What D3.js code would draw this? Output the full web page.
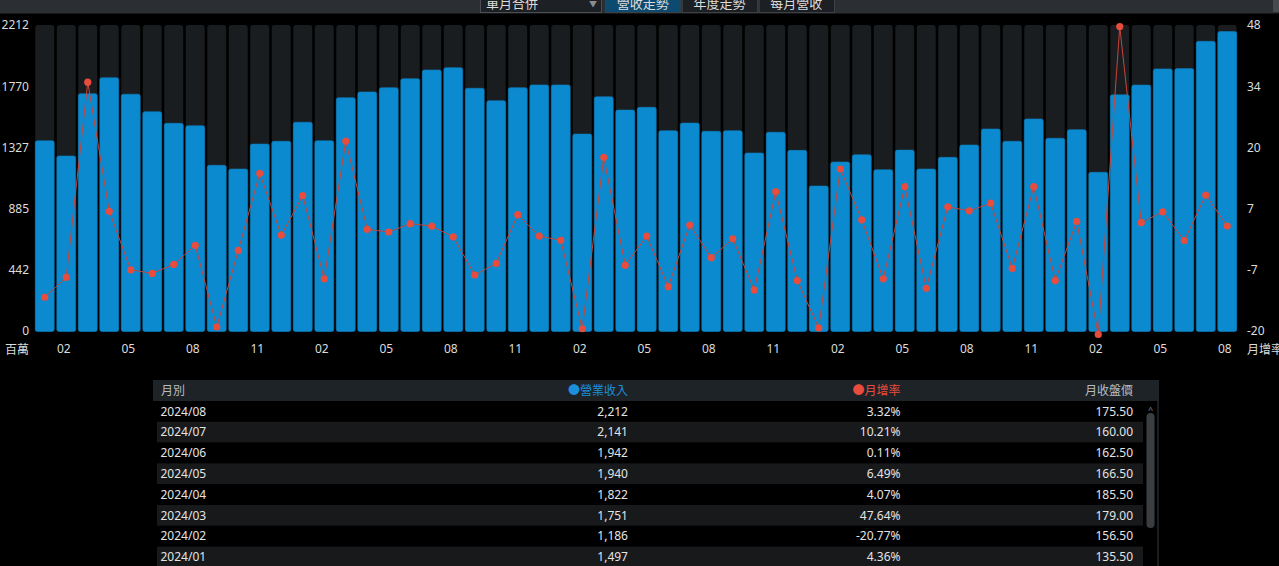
<!DOCTYPE html>
<html>
<head>
<meta charset="utf-8">
<script src="https://cdn.jsdelivr.net/npm/d3@7"></script>
<style>
	body { margin: 0; background: #000; overflow: hidden; }
	svg { display: block; font-family: "Noto Sans", "Noto Sans CJK TC", sans-serif; }
</style>
</head>
<body>
<div id="chart"></div>
<script>
// months shown on the chart, oldest first
const months = [
	'2020/01', '2020/02', '2020/03', '2020/04', '2020/05', '2020/06', '2020/07', '2020/08', '2020/09', '2020/10', '2020/11', '2020/12',
	'2021/01', '2021/02', '2021/03', '2021/04', '2021/05', '2021/06', '2021/07', '2021/08', '2021/09', '2021/10', '2021/11', '2021/12',
	'2022/01', '2022/02', '2022/03', '2022/04', '2022/05', '2022/06', '2022/07', '2022/08', '2022/09', '2022/10', '2022/11', '2022/12',
	'2023/01', '2023/02', '2023/03', '2023/04', '2023/05', '2023/06', '2023/07', '2023/08', '2023/09', '2023/10', '2023/11', '2023/12',
	'2024/01', '2024/02', '2024/03', '2024/04', '2024/05', '2024/06', '2024/07', '2024/08'
]
// 營業收入 (百萬)
const revenue = [
	1416, 1305, 1759, 1876, 1755, 1628, 1543, 1526, 1237, 1210, 1392, 1412,
	1551, 1416, 1730, 1772, 1803, 1869, 1932, 1949, 1799, 1708, 1803, 1823,
	1823, 1465, 1737, 1640, 1660, 1489, 1545, 1485, 1489, 1327, 1478, 1346,
	1086, 1261, 1314, 1205, 1348, 1210, 1295, 1385, 1502, 1412, 1575, 1434,
	1497, 1186, 1751, 1822, 1940, 1942, 2141, 2212
]
// 月增率 (%)
const momRate = [
	-12.5, -8.07, 35.3, 6.6, -6.4, -7.2, -5.2, -0.96, -19.1, -2.1, 15.04, 1.3,
	10.07, -8.4, 22.2, 2.6, 2.0, 3.85, 3.3, 0.9, -7.56, -4.96, 5.85, 1.1,
	0.15, -19.5, 18.6, -5.4, 1.1, -10.15, 3.56, -3.7, 0.5, -10.9, 10.96, -8.8,
	-19.3, 16.0, 4.7, -8.4, 12.07, -10.5, 7.6, 6.7, 8.4, -6.1, 12.07, -8.8,
	4.36, -20.77, 47.64, 4.07, 6.49, 0.11, 10.21, 3.32
]
// 月收盤價, latest month first (rows visible in the table)
const closePrice = [175.50, 160.00, 162.50, 166.50, 185.50, 179.00, 156.50, 135.50]

const revTicks = ['0', '442', '885', '1327', '1770', '2212']
const rateTicks = ['-20', '-7', '7', '20', '34', '48']
const tabs = ['營收走勢', '年度走勢', '每月營收']
const tableHeads = ['月別', '●營業收入', '●月增率', '月收盤價']

const width = 1279
const height = 566
const plotTop = 25
const plotBottom = 331.5

const blue = '#0b8ad0'
const red = '#e84c3d'
const textColor = '#dcdcdc'

const svg = d3.select('#chart').append('svg').attr('width', width).attr('height', height)

//-------------------toolbar----------------------------------
svg.append('rect').attr('x', 0).attr('y', 0).attr('width', width).attr('height', 13.5).attr('fill', '#2b2f33')
svg.append('rect').attr('x', 1273).attr('y', 0).attr('width', 6).attr('height', 12).attr('fill', '#474b4f')

svg.append('rect')
	.attr('x', 480.5).attr('y', -6).attr('width', 121).attr('height', 18.5)
	.attr('fill', '#1d2125').attr('stroke', '#4a4e52')
svg.append('text').attr('x', 486).attr('y', 8).attr('fill', textColor).attr('font-size', '13px').text('單月合併')
svg.append('text').attr('x', 593).attr('y', 7).attr('fill', '#8a8e92').attr('font-size', '8px').attr('text-anchor', 'middle').text('▼')

const tabX = d3.scaleBand().domain(tabs).range([605, 834]).paddingInner(0.02)
const tab = svg.selectAll('.tab').data(tabs).enter().append('g').attr('class', 'tab')
tab.append('rect')
	.attr('x', d => tabX(d) + 0.5).attr('y', -6)
	.attr('width', tabX.bandwidth()).attr('height', 18.5)
	.attr('fill', (d, i) => (i === 0 ? '#0c4a70' : '#1c1f23'))
	.attr('stroke', '#3d4145')
tab.append('text')
	.attr('x', d => tabX(d) + tabX.bandwidth() / 2).attr('y', 8)
	.attr('text-anchor', 'middle').attr('font-size', '13px')
	.attr('fill', textColor)
	.text(d => d)

//-------------------chart----------------------------------
const x = d3.scaleBand().domain(months).range([34, 1238]).paddingInner(0.12).paddingOuter(0.06)
const revY = d3.scaleLinear().domain([0, 2260]).range([335, plotTop])
const rateY = d3.scaleLinear().domain([-20, 48]).range([plotBottom - 0.5, plotTop])
const revTickPos = d3.scalePoint().domain(revTicks).range([plotBottom - 0.5, plotTop])
const rateTickPos = d3.scalePoint().domain(rateTicks).range([plotBottom - 0.5, plotTop])

const g = svg.append('g')

g.selectAll('.bg-bar')
	.data(months)
	.enter()
	.append('rect')
	.attr('class', 'bg-bar')
	.attr('x', d => x(d))
	.attr('y', plotTop)
	.attr('width', x.bandwidth())
	.attr('height', plotBottom - plotTop)
	.attr('rx', 3)
	.attr('fill', '#1a1d20')

g.selectAll('.bar')
	.data(revenue)
	.enter()
	.append('rect')
	.attr('class', 'bar')
	.attr('x', (d, i) => x(months[i]))
	.attr('y', d => revY(d))
	.attr('width', x.bandwidth())
	.attr('height', d => plotBottom - revY(d))
	.attr('rx', 2)
	.attr('fill', blue)
	.attr('stroke', '#0a7dbd')
	.attr('stroke-width', 0.6)

const cx = i => x(months[i]) + x.bandwidth() / 2

const valueline = d3
	.line()
	.x((d, i) => cx(i))
	.y(d => rateY(d))

g.append('path')
	.datum(momRate)
	.attr('d', valueline)
	.attr('fill', 'none')
	.attr('stroke', '#c9443a')
	.attr('stroke-width', 1)

g.selectAll('.dot')
	.data(momRate)
	.enter()
	.append('circle')
	.attr('class', 'dot')
	.attr('cx', (d, i) => cx(i))
	.attr('cy', d => rateY(d))
	.attr('r', 3.6)
	.attr('fill', red)

// axes
const styleAxis = sel => {
	sel.select('.domain').remove()
	sel.selectAll('text').attr('fill', textColor).attr('font-size', '12px')
	sel.attr('font-family', null)
}

svg.append('g')
	.attr('transform', 'translate(29,0)')
	.call(d3.axisLeft(revTickPos).tickSize(0).tickPadding(0))
	.call(styleAxis)

svg.append('g')
	.attr('transform', 'translate(1247,0)')
	.call(d3.axisRight(rateTickPos).tickSize(0).tickPadding(0))
	.call(styleAxis)

const monthTicks = months.filter(m => ['02', '05', '08', '11'].includes(m.slice(5)))
svg.append('g')
	.attr('transform', `translate(-2.5,${plotBottom + 13})`)
	.call(d3.axisBottom(x).tickValues(monthTicks).tickFormat(m => m.slice(5)).tickSize(0).tickPadding(0))
	.call(styleAxis)

svg.append('text').attr('x', 5).attr('y', 354).attr('fill', textColor).attr('font-size', '12px').text('百萬')
svg.append('text').attr('x', 1247).attr('y', 354).attr('fill', textColor).attr('font-size', '12px').text('月增率')

//-------------------table----------------------------------
const rows = months.slice(-8).reverse().map((m, i) => ({
	month: m,
	revenue: revenue[revenue.length - 1 - i],
	rate: momRate[momRate.length - 1 - i],
	close: closePrice[i],
}))

const rowH = 20.8
const tableTop = 380
const colRight = [null, 628, 900.5, 1133]
const headColors = ['#b8bcc0', '#1b8fd8', red, '#b8bcc0']

svg.append('rect').attr('x', 153).attr('y', tableTop).attr('width', 1006).attr('height', 21).attr('fill', '#1e2328')
svg.append('rect').attr('x', 1157).attr('y', tableTop + 21).attr('width', 2).attr('height', 200).attr('fill', '#1a1e22')

svg.selectAll('.head')
	.data(tableHeads)
	.enter()
	.append('text')
	.attr('class', 'head')
	.attr('x', (d, i) => (i === 0 ? 161 : colRight[i]))
	.attr('y', tableTop + 15)
	.attr('text-anchor', (d, i) => (i === 0 ? 'start' : 'end'))
	.attr('font-size', '12px')
	.attr('fill', (d, i) => headColors[i])
	.text(d => d)

const row = svg.selectAll('.row')
	.data(rows)
	.enter()
	.append('g')
	.attr('class', 'row')
	.attr('transform', (d, i) => `translate(0,${tableTop + 21 + i * rowH})`)

row.append('rect')
	.attr('x', 157).attr('y', 0).attr('width', 986).attr('height', rowH)
	.attr('fill', (d, i) => (i % 2 === 0 ? '#000' : '#17191b'))

const fmt = d3.format(',')
const cells = d => [d.month, fmt(d.revenue), d.rate.toFixed(2) + '%', d.close.toFixed(2)]
row.selectAll('text')
	.data(d => cells(d))
	.enter()
	.append('text')
	.attr('x', (d, i) => (i === 0 ? 160.5 : colRight[i]))
	.attr('y', 14.5)
	.attr('text-anchor', (d, i) => (i === 0 ? 'start' : 'end'))
	.attr('font-size', '12px')
	.attr('fill', '#e4e4e4')
	.text(d => d)

// scrollbar
svg.append('text').attr('x', 1150.5).attr('y', 413).attr('text-anchor', 'middle').attr('font-size', '9px').attr('fill', '#8a8e92').text('^')
svg.append('rect').attr('x', 1146.5).attr('y', 413).attr('width', 8).attr('height', 115).attr('rx', 4).attr('fill', '#3b3e41')
</script>
</body>
</html>
